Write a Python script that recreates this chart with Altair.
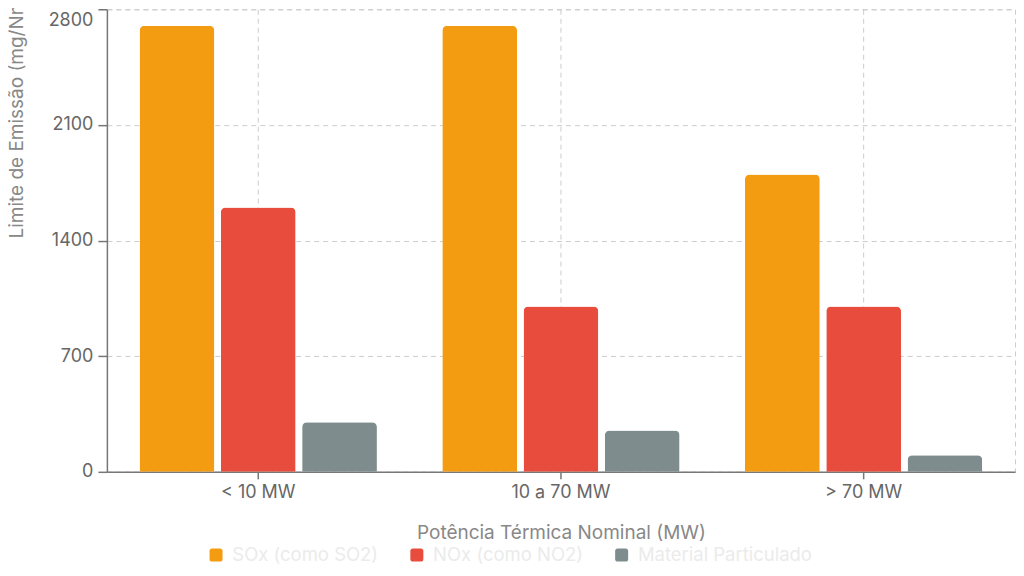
import altair as alt
import pandas as pd

categories = ["< 10 MW", "10 a 70 MW", "> 70 MW"]
series = ["SOx (como SO2)", "NOx (como NO2)", "Material Particulado"]
sox = [2700, 2700, 1800]
nox = [1600, 1000, 1000]
pm = [300, 250, 100]
colors = ["#F39C12", "#E74C3C", "#7F8C8D"]
y_ticks = [0, 700, 1400, 2100, 2800]

rows = []
for i, c in enumerate(categories):
    for s, vals in zip(series, [sox, nox, pm]):
        rows.append({"cat": c, "serie": s, "valor": vals[i]})
df = pd.DataFrame(rows)

FONT = "Inter"
rounded = "M -0.6 -1 H 0.6 Q 1 -1 1 -0.6 V 0.6 Q 1 1 0.6 1 H -0.6 Q -1 1 -1 0.6 V -0.6 Q -1 -1 -0.6 -1 Z"

chart = alt.Chart(df).mark_bar(
    cornerRadiusTopLeft=5, cornerRadiusTopRight=5
).encode(
    x=alt.X("cat:N", sort=categories,
            scale=alt.Scale(paddingInner=0.216, paddingOuter=0.108),
            axis=alt.Axis(title="Potência Térmica Nominal (MW)", labelAngle=0,
                          bandPosition=0.5, grid=True, gridDash=[5, 4], gridColor="#cccccc",
                          domainColor="#777777", domainWidth=1.5, tickColor="#777777",
                          tickWidth=1.5, tickSize=7, labelPadding=5, labelFontSize=18,
                          labelColor="#666666", titleFontSize=19, titleColor="#888888",
                          titleFontWeight="normal", titlePadding=22, labelFont=FONT,
                          titleFont=FONT)),
    xOffset=alt.XOffset("serie:N", sort=series,
                        scale=alt.Scale(paddingInner=0.08, paddingOuter=0)),
    y=alt.Y("valor:Q", scale=alt.Scale(domain=[0, 2800], nice=False),
            axis=alt.Axis(title="Limite de Emissão (mg/Nm³)", values=y_ticks, format="d",
                          grid=True, gridDash=[5, 4], gridColor="#cccccc",
                          domainColor="#777777", domainWidth=1.5, tickColor="#777777",
                          tickWidth=1.5, tickSize=9, labelPadding=5, labelFontSize=18,
                          labelColor="#666666", labelFont=FONT,
                          labelOffset={"condition": {"test": "datum.value === 2800", "value": 11}, "value": 0},
                          titleFont=FONT, titleFontSize=19, titleColor="#888888",
                          titleFontWeight="normal", titleAngle=-90, titleAlign="left",
                          titleBaseline="middle", titleX=-90, titleY=229)),
    color=alt.Color("serie:N", sort=series,
                    scale=alt.Scale(domain=series, range=colors),
                    legend=alt.Legend(title=None, orient="none", direction="horizontal",
                                      legendX=100, legendY=537, padding=0,
                                      symbolType=rounded, symbolSize=169,
                                      symbolStrokeWidth=0, symbolOpacity=1,
                                      labelFont=FONT, labelFontSize=18.5, labelLimit=0,
                                      labelColor="#ebebeb", labelOffset=7,
                                      columnPadding=29)),
).properties(
    width=909, height=463,
    autosize=alt.AutoSizeParams(type="none"),
    padding={"left": 99, "top": 1, "right": 1, "bottom": 96},
).configure_view(
    stroke="#cccccc", strokeDash=[5, 4], strokeWidth=1
)

chart.save("out.html", embed_options={"renderer": "svg", "actions": False})
